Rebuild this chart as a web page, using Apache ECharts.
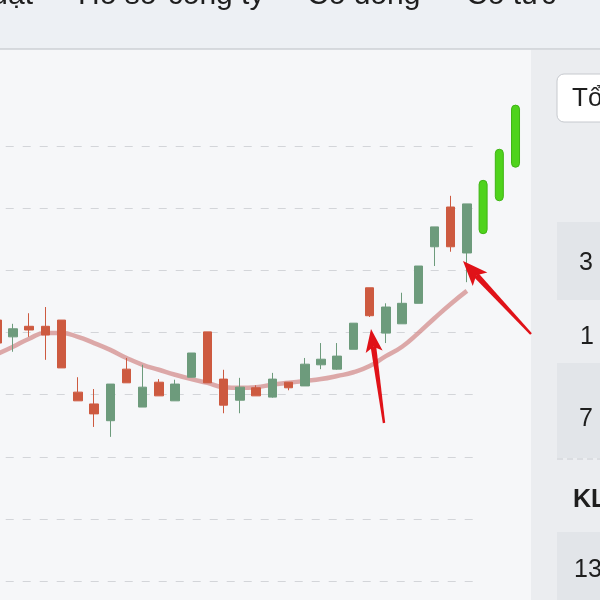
<!DOCTYPE html>
<html>
<head>
<meta charset="utf-8">
<script src="https://cdn.jsdelivr.net/npm/echarts@6/dist/echarts.min.js"></script>
<style>
  html, body { margin: 0; padding: 0; background: #f6f7f9; }
  #chart { width: 600px; height: 600px; }
</style>
</head>
<body>
<div id="chart"></div>
<script>
// ---- data ----
var sessions = ['S01','S02','S03','S04','S05','S06','S07','S08','S09','S10',
                'S11','S12','S13','S14','S15','S16','S17','S18','S19','S20',
                'S21','S22','S23','S24','S25','S26','S27','S28','S29','S30'];
var futureSessions = ['S31','S32','S33'];
var opens  = [24.20,23.93,24.10,24.10,24.20,23.04,22.85,22.58,23.41,22.80,23.20,22.90,23.28,24.01,23.25,22.91,23.11,22.96,23.20,23.14,23.48,23.41,23.73,24.72,23.99,24.14,24.47,25.38,26.02,25.28];
var closes = [23.83,24.06,24.04,23.96,23.43,22.90,22.69,23.17,23.19,23.12,22.98,23.17,23.67,23.19,22.83,23.12,22.98,23.25,23.11,23.49,23.57,23.62,24.15,24.27,24.41,24.47,25.07,25.70,25.38,26.07];
var lows   = [23.72,23.69,23.93,23.56,23.43,22.90,22.48,22.32,23.19,22.80,22.98,22.90,23.28,23.19,22.70,22.70,22.98,22.95,23.07,23.14,23.41,23.40,23.73,24.25,23.83,24.14,24.47,25.07,25.30,24.81];
var highs  = [24.33,24.14,24.31,24.41,24.20,23.28,23.09,23.17,23.59,23.48,23.25,23.24,23.67,24.01,23.40,23.27,23.15,23.35,23.20,23.59,23.83,23.83,24.15,24.72,24.47,24.64,25.07,25.70,26.20,26.07];
var maLine = [23.65,23.77,23.90,23.99,23.99,23.93,23.83,23.72,23.59,23.48,23.40,23.32,23.25,23.19,23.12,23.11,23.12,23.16,23.19,23.22,23.25,23.30,23.36,23.46,23.62,23.77,23.99,24.23,24.46,24.67];
var projLow  = [25.59, 26.12, 26.66];
var projHigh = [26.45, 26.95, 27.66];

var tabLabels = ['thuật', 'Hồ sơ công ty', 'Cổ đông', 'Cổ tức'];
var sideLabels = ['3', '1', '7', '13'];

// ---- build ----
var candleData = opens.map(function (o, i) { return [o, closes[i], lows[i], highs[i]]; });
var allSessions = sessions.concat(futureSessions);
var projData = projLow.map(function (lo, i) { return [sessions.length + i, lo, projHigh[i]]; });

var chart = echarts.init(document.getElementById('chart'), null, { renderer: 'canvas' });

var gridTop = 84, gridBottom = 19, gridLeft = -11.3, step = 16.21;

function arrow(tail, tip, headLen, headHalf, tailHalf, shaftHalf) {
  var dx = tip[0] - tail[0], dy = tip[1] - tail[1];
  var len = Math.sqrt(dx * dx + dy * dy);
  var ux = dx / len, uy = dy / len, px = -uy, py = ux;
  var bx = tip[0] - ux * headLen, by = tip[1] - uy * headLen;
  var nx = tip[0] - ux * headLen * 0.78, ny = tip[1] - uy * headLen * 0.78;
  return [
    { type: 'polygon', z: 100, shape: { points: [
        [tail[0] + px * tailHalf, tail[1] + py * tailHalf],
        [nx + px * shaftHalf, ny + py * shaftHalf],
        [nx - px * shaftHalf, ny - py * shaftHalf],
        [tail[0] - px * tailHalf, tail[1] - py * tailHalf]] },
      style: { fill: '#e01218' } },
    { type: 'polygon', z: 100, shape: { points: [
        tip,
        [bx + px * headHalf, by + py * headHalf],
        [nx, ny],
        [bx - px * headHalf, by - py * headHalf]] },
      style: { fill: '#e01218' } }
  ];
}

var font24 = '25px "Liberation Sans", Arial, sans-serif';
var tabX = [33, 78, 307, 466];
var graphics = [
  { type: 'rect', z: -10, shape: { x: 0, y: 0, width: 600, height: 49 }, style: { fill: '#edf0f4' } },
  { type: 'line', z: -9, shape: { x1: 0, y1: 49, x2: 600, y2: 49 }, style: { stroke: '#cdd0d5', lineWidth: 1.5 } },
  { type: 'rect', z: -10, shape: { x: 531, y: 50, width: 69, height: 550 }, style: { fill: '#ebedf0' } },
  { type: 'rect', z: -9, shape: { x: 557, y: 74, width: 60, height: 48, r: 7 }, style: { fill: '#ffffff', stroke: '#c6c9ce', lineWidth: 1 } },
  { type: 'text', z: -8, style: { x: 572, y: 99, text: 'Tổng', font: '26px "Liberation Sans", Arial, sans-serif', fill: '#1e1e1e', verticalAlign: 'middle' } },
  { type: 'rect', z: -9, shape: { x: 557, y: 222, width: 50, height: 78 }, style: { fill: '#e2e5e9' } },
  { type: 'rect', z: -9, shape: { x: 557, y: 363, width: 50, height: 95 }, style: { fill: '#e2e5e9' } },
  { type: 'line', z: -9, shape: { x1: 557, y1: 459, x2: 600, y2: 459 }, style: { stroke: '#c9ccd1', lineWidth: 1, lineDash: [6, 4] } },
  { type: 'rect', z: -9, shape: { x: 557, y: 532, width: 50, height: 70 }, style: { fill: '#e2e5e9' } },
  { type: 'text', z: -8, style: { x: 579, y: 263, text: sideLabels[0], font: font24, fill: '#1e1e1e', verticalAlign: 'middle' } },
  { type: 'text', z: -8, style: { x: 580, y: 337, text: sideLabels[1], font: font24, fill: '#1e1e1e', verticalAlign: 'middle' } },
  { type: 'text', z: -8, style: { x: 579, y: 419, text: sideLabels[2], font: font24, fill: '#1e1e1e', verticalAlign: 'middle' } },
  { type: 'text', z: -8, style: { x: 573, y: 500, text: 'KL', font: 'bold ' + font24, fill: '#1e1e1e', verticalAlign: 'middle' } },
  { type: 'text', z: -8, style: { x: 574, y: 570, text: sideLabels[3], font: font24, fill: '#1e1e1e', verticalAlign: 'middle' } }
];
tabLabels.forEach(function (t, i) {
  graphics.push({ type: 'text', z: -8, style: { x: tabX[i], y: -4, text: t, font: '30px "Liberation Sans", Arial, sans-serif', fill: '#1e1e1e', verticalAlign: 'middle', align: i === 0 ? 'right' : 'left' } });
});
graphics = graphics.concat(arrow([384, 423], [371, 329], 23, 8.5, 1.2, 2.8));
graphics = graphics.concat(arrow([531, 334], [463, 261], 25, 10, 1.2, 3));

var option = {
  backgroundColor: '#f6f7f9',
  animation: false,
  graphic: { elements: graphics },
  grid: [
    { left: gridLeft, top: gridTop, bottom: gridBottom, width: step * sessions.length, outerBoundsMode: 'none', containLabel: false },
    { left: gridLeft, top: gridTop, bottom: gridBottom, width: step * allSessions.length, outerBoundsMode: 'none', containLabel: false }
  ],
  xAxis: [
    { type: 'category', gridIndex: 0, data: sessions, boundaryGap: true,
      axisLine: { show: false }, axisTick: { show: false }, axisLabel: { show: false }, splitLine: { show: false } },
    { type: 'category', gridIndex: 1, data: allSessions, boundaryGap: true,
      axisLine: { show: false }, axisTick: { show: false }, axisLabel: { show: false }, splitLine: { show: false } }
  ],
  yAxis: [
    { type: 'value', gridIndex: 0, min: 20, max: 28, interval: 1,
      axisLine: { show: false }, axisTick: { show: false }, axisLabel: { show: false },
      splitLine: { show: true, showMinLine: true, showMaxLine: false,
        lineStyle: { color: '#d3d5d9', width: 1.2, type: [8, 9] } } },
    { type: 'value', gridIndex: 1, min: 20, max: 28, interval: 1,
      axisLine: { show: false }, axisTick: { show: false }, axisLabel: { show: false }, splitLine: { show: false } }
  ],
  series: [
    {
      type: 'line', xAxisIndex: 0, yAxisIndex: 0, data: maLine, smooth: true,
      showSymbol: false, z: 1,
      lineStyle: { color: 'rgba(214,148,148,0.8)', width: 4.5 }
    },
    {
      type: 'candlestick', xAxisIndex: 0, yAxisIndex: 0, data: candleData, barWidth: 9, z: 3,
      itemStyle: {
        color: '#6d9b7c', color0: '#cd5a40',
        borderColor: '#6d9b7c', borderColor0: '#cd5a40', borderWidth: 1
      }
    },
    {
      type: 'custom', xAxisIndex: 1, yAxisIndex: 1, data: projData, z: 3,
      encode: { x: 0, y: [1, 2] },
      renderItem: function (params, api) {
        var lo = api.coord([api.value(0), api.value(1)]);
        var hi = api.coord([api.value(0), api.value(2)]);
        var w = 8;
        return {
          type: 'rect',
          shape: { x: lo[0] - w / 2, y: hi[1], width: w, height: lo[1] - hi[1], r: 4 },
          style: { fill: '#4fd31c', stroke: '#3fb415', lineWidth: 1 }
        };
      }
    }
  ]
};
chart.setOption(option);
</script>
</body>
</html>
